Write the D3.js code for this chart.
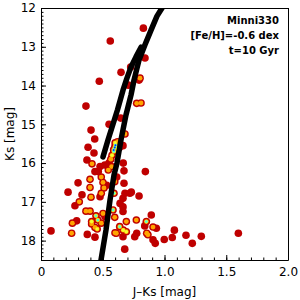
<!DOCTYPE html>
<html>
<head>
<meta charset="utf-8">
<script src="https://cdn.jsdelivr.net/npm/d3@7"></script>
<style>
  body { margin: 0; background: #fff; }
  svg { display: block; }
  text { font-family: "DejaVu Sans", Verdana, sans-serif; }
</style>
</head>
<body>
<svg width="300" height="300"></svg>
<script>
// stars: J-Ks colour, Ks magnitude, overlap level (0 red .. 4 blue)
var starJK = [0.829,0.561,0.648,0.472,0.364,0.405,0.435,0.551,0.842,0.726,0.802,0.794,0.775,0.81,0.707,0.645,0.680,0.664,
  0.381,0.429,0.372,0.413,0.437,0.300,0.397,0.397,0.219,0.332,0.405,0.310,0.275,0.364,0.397,0.445,0.289,0.254,0.410,0.437,
  0.081,0.248,0.375,0.437,
  0.597,0.59,0.60,0.615,0.575,0.62,0.565,0.635,0.55,0.603,0.588,
  0.516,0.672,0.845,0.488,0.502,0.464,0.545,0.572,0.613,0.597,0.672,0.591,0.731,0.794,0.664,0.488,0.51,0.478,0.532,0.664,
  0.583,0.502,0.597,0.664,0.691,0.637,0.610,0.691,0.759,0.664,0.772,0.853,0.893,0.840,0.907,0.866,0.934,0.907,0.678,0.488,
  0.518,0.46,0.455,0.41,0.599,0.666,0.68,0.72,0.64,0.775,0.856,0.925,0.666,0.478,
  1.08,0.998,1.063,1.174,1.225,1.298,1.598];
var starKs = [12.52,12.85,13.66,13.89,14.53,15.15,15.38,15.00,13.29,13.52,13.81,13.86,14.46,14.45,13.99,14.84,15.25,15.55,
  15.59,15.74,15.92,16.02,16.22,16.51,16.42,16.63,16.75,16.82,16.88,17.00,17.10,17.24,17.24,17.36,17.49,17.55,17.51,17.66,
  17.75,17.81,17.84,17.91,
  15.60,15.70,15.48,15.62,15.80,15.45,15.90,15.60,16.00,15.54,15.66,
  16.05,16.20,16.22,16.36,16.50,16.22,16.18,16.09,16.36,16.48,16.52,16.78,16.75,16.85,16.91,16.78,16.64,16.87,16.57,17.13,
  17.21,17.30,17.40,17.25,17.51,17.64,17.81,17.77,17.90,17.90,17.47,17.51,17.34,17.62,17.65,17.85,17.68,17.98,18.22,17.55,
  17.38,17.47,17.70,17.57,17.80,17.73,16.78,16.78,17.04,17.81,17.81,18.07,16.00,16.09,
  17.73,17.97,17.92,17.86,18.07,17.89,17.81];
var starLevel = [0,0,0,0,0,0,0,0,0,0,1,0,1,1,0,0,1,0,
  0,0,0,1,0,0,1,1,0,0,1,1,0,1,1,3,0,1,2,1,
  0,1,0,0,
  4,3,2,2,2,1,1,1,0,4,4,
  0,0,0,1,1,0,1,1,0,1,0,3,0,0,0,1,1,0,0,0,
  3,1,1,0,1,3,1,2,0,0,1,3,0,0,1,1,0,0,0,1,
  0,3,2,1,1,2,0,0,0,0,1,0,0,0,
  0,0,0,0,0,0,0];

// isochrone branches
var rgbJK = [0.486,0.526,0.559,0.591,0.615,0.648,0.688,0.729,0.753,0.794,0.842,0.891,0.939,0.980];
var rgbKs = [18.50,17.73,16.95,16.31,16.00,15.40,14.76,14.24,13.86,13.34,12.95,12.57,12.21,12.00];
var agbJK = [0.502,0.543,0.619,0.664,0.696,0.729,0.769,0.810];
var agbKs = [15.84,15.40,14.63,14.12,13.81,13.52,13.26,13.01];

var xTicks = [0, 0.5, 1.0, 1.5, 2.0];
var xTickLabels = ["0", "0.5", "1.0", "1.5", "2.0"];
var yTicks = [12, 13, 14, 15, 16, 17, 18];
var labelLines = ["Minni330", "[Fe/H]=-0.6 dex", "t=10 Gyr"];

var levelColors = ["#bf0000", "#ffa500", "#f4ff30", "#50ffd8", "#0030ff"];
var levelRadius = [3.8, 2.4, 1.8, 1.4, 1.0];

(function() {
var svg = d3.select("svg"),
    mLeft = 41, mTop = 8, mRight = 288, mBottom = 260;

var x = d3.scaleLinear().domain([0, 2]).range([mLeft, mRight]);
var y = d3.scaleLinear().domain([12, 18.5]).range([mTop, mBottom]);

var stars = starJK.map(function(d, i) { return {jk: d, ks: starKs[i], lev: starLevel[i]}; });

svg.append("clipPath").attr("id", "clip")
  .append("rect").attr("x", mLeft).attr("y", mTop).attr("width", mRight - mLeft).attr("height", mBottom - mTop);
var pg = svg.append("g").attr("clip-path", "url(#clip)");

// draw one layer per level so inner colours sit on top of the red discs
levelColors.forEach(function(col, k) {
  pg.append("g").selectAll("circle")
    .data(stars.filter(function(d) { return d.lev >= k; }))
    .enter().append("circle")
    .attr("cx", function(d) { return x(d.jk); })
    .attr("cy", function(d) { return y(d.ks); })
    .attr("r", levelRadius[k])
    .attr("fill", col);
});

var line = d3.line().x(function(d) { return x(d[0]); }).y(function(d) { return y(d[1]); });
[[rgbJK, rgbKs], [agbJK, agbKs]].forEach(function(b) {
  pg.append("path")
    .datum(b[0].map(function(d, i) { return [d, b[1][i]]; }))
    .attr("d", line)
    .attr("fill", "none")
    .attr("stroke", "#000")
    .attr("stroke-width", 5.5)
    .attr("stroke-linecap", "round")
    .attr("stroke-linejoin", "round");
});

// frame
svg.append("line").attr("x1", mLeft).attr("x2", mRight).attr("y1", mTop + 0.5).attr("y2", mTop + 0.5).attr("stroke", "#000");
svg.append("line").attr("x1", mRight + 0.5).attr("x2", mRight + 0.5).attr("y1", mTop).attr("y2", mBottom).attr("stroke", "#000");

// axes with inward ticks
svg.append("g").attr("transform", "translate(0," + mBottom + ")")
  .call(d3.axisBottom(x).tickValues(d3.range(0, 21).map(function(i) { return i / 10; }))
    .tickSize(-2.5).tickSizeOuter(0).tickFormat(""));
svg.append("g").attr("transform", "translate(" + mLeft + ",0)")
  .call(d3.axisLeft(y).tickValues(d3.range(0, 66).map(function(i) { return 12 + i / 10; }))
    .tickSize(-2.5).tickSizeOuter(0).tickFormat(""));

svg.append("g").attr("transform", "translate(0," + mBottom + ")")
  .call(d3.axisBottom(x).tickValues(xTicks).tickSize(-5).tickSizeOuter(0).tickPadding(7)
    .tickFormat(function(d, i) { return xTickLabels[i]; }));
svg.append("g").attr("transform", "translate(" + mLeft + ",0)")
  .call(d3.axisLeft(y).tickValues(yTicks).tickSize(-5).tickSizeOuter(0).tickPadding(5)
    .tickFormat(d3.format("d")));

svg.selectAll(".tick text").attr("font-size", "12px").attr("fill", "#000")
  .attr("font-family", "DejaVu Sans, Verdana, sans-serif");
svg.selectAll(".domain").attr("stroke", "#000");

svg.append("text").attr("x", (mLeft + mRight) / 2).attr("y", 296)
  .attr("text-anchor", "middle").attr("font-size", "12px").text("J\u2013Ks [mag]");
svg.append("text").attr("transform", "translate(14," + (mTop + mBottom) / 2 + ") rotate(-90)")
  .attr("text-anchor", "middle").attr("font-size", "12px").text("Ks [mag]");

svg.append("g").selectAll("text").data(labelLines).enter().append("text")
  .attr("x", 279).attr("y", function(d, i) { return 24 + i * 15; })
  .attr("text-anchor", "end").attr("font-size", "10px").attr("font-weight", "bold")
  .text(function(d) { return d; });
})();
</script>
</body>
</html>
